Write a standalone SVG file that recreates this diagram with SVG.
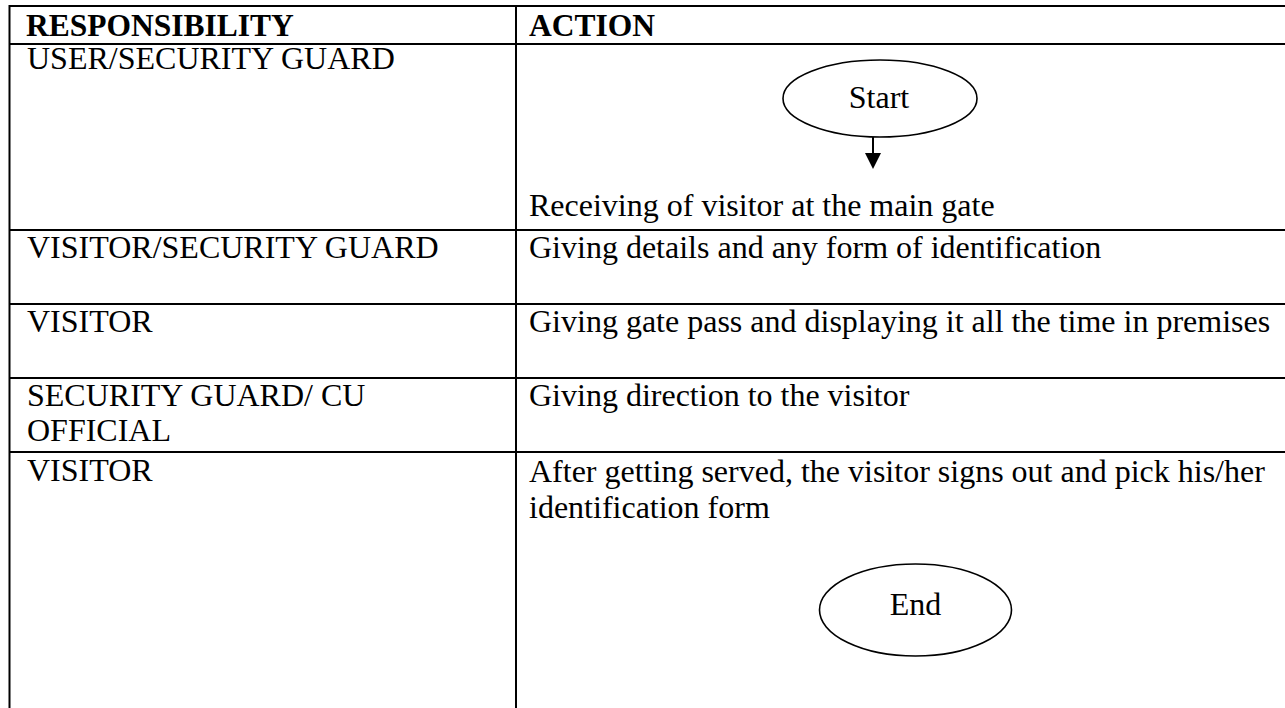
<svg xmlns="http://www.w3.org/2000/svg" width="1285" height="708" viewBox="0 0 1285 708">
<style>
.t{font-family:"Liberation Serif","Times New Roman",serif;font-size:32px;fill:#000}
.h{font-weight:bold;font-size:31.5px}
.c{text-anchor:middle}
.ln{stroke:#000;stroke-width:2;fill:none}
.el{stroke:#000;stroke-width:1.6;fill:#fff}
</style>
<rect width="1285" height="708" fill="#fff"/>
<g id="table">
<line class="ln" x1="9" y1="6" x2="1285" y2="6"/>
<line class="ln" x1="9" y1="44" x2="1285" y2="44"/>
<line class="ln" x1="9" y1="230" x2="1285" y2="230"/>
<line class="ln" x1="9" y1="304" x2="1285" y2="304"/>
<line class="ln" x1="9" y1="378" x2="1285" y2="378"/>
<line class="ln" x1="9" y1="452" x2="1285" y2="452"/>
<line class="ln" x1="9.5" y1="5" x2="9.5" y2="708"/>
<line class="ln" x1="516" y1="5" x2="516" y2="708"/>
</g>
<g id="header">
<text class="t h" x="26" y="36">RESPONSIBILITY</text>
<text class="t h" x="529" y="36">ACTION</text>
</g>
<g id="responsibilities">
<text class="t" x="27" y="69">USER/SECURITY GUARD</text>
<text class="t" x="27" y="258">VISITOR/SECURITY GUARD</text>
<text class="t" x="27" y="332">VISITOR</text>
<text class="t" x="27" y="406">SECURITY GUARD/ CU</text>
<text class="t" x="27" y="441">OFFICIAL</text>
<text class="t" x="27" y="481">VISITOR</text>
</g>
<g id="actions">
<text class="t" x="529" y="216">Receiving of visitor at the main gate</text>
<text class="t" x="529" y="258">Giving details and any form of identification</text>
<text class="t" x="529" y="332">Giving gate pass and displaying it all the time in premises</text>
<text class="t" x="529" y="406">Giving direction to the visitor</text>
<text class="t" x="529" y="482">After getting served, the visitor signs out and pick his/her</text>
<text class="t" x="529" y="518">identification form</text>
</g>
<g id="start">
<ellipse class="el" cx="880" cy="98.5" rx="97" ry="38.5"/>
<text class="t c" x="879" y="108">Start</text>
</g>
<g id="end">
<ellipse class="el" cx="915.5" cy="610" rx="96" ry="46"/>
<text class="t c" x="915.5" y="615">End</text>
</g>
<g id="connectors">
<line class="ln" x1="873" y1="137" x2="873" y2="155"/>
<polygon points="865,153 881,153 873,169" fill="#000"/>
</g>
</svg>
